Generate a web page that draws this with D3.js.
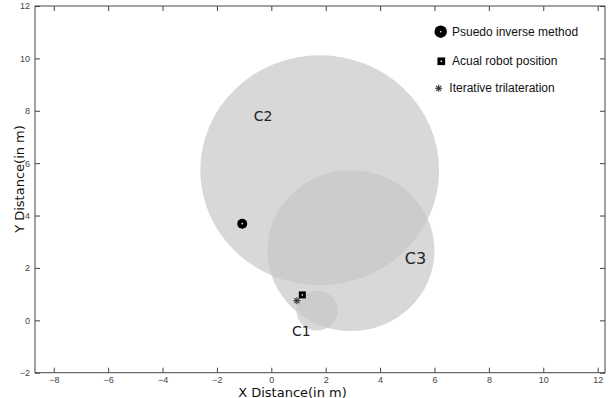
<!DOCTYPE html>
<html><head><meta charset="utf-8">
<script src="https://cdn.jsdelivr.net/npm/d3@7"></script>
<style>body{margin:0;background:#fff}svg{display:block}</style>
</head><body>
<script>
// ---- data ----
const xTicks = [-8, -6, -4, -2, 0, 2, 4, 6, 8, 10, 12];
const yTicks = [-2, 0, 2, 4, 6, 8, 10, 12];
const circleNames = ["C2", "C3", "C1"];
const circleX = [1.78, 2.93, 1.68];
const circleY = [5.73, 2.66, 0.37];
const circleR = [4.39, 3.07, 0.76];
const labelX = [-0.3, 5.3, 1.1];
const labelY = [7.8, 2.35, -0.42];
const markerNames = ["Psuedo inverse method", "Acual robot position", "Iterative trilateration"];
const markerX = [-1.07, 1.14, 0.94];
const markerY = [3.69, 0.97, 0.75];

const W = 614, H = 398;
const svg = d3.select("body").append("svg").attr("width", W).attr("height", H);
const x = d3.scaleLinear().domain([-8.69, 12.27]).range([35, 605]);
const y = d3.scaleLinear().domain([-2, 12]).range([372.7, 6]);

// circles
const cg = svg.append("g");
circleNames.forEach((n, i) => {
  cg.append("ellipse")
    .attr("cx", x(circleX[i])).attr("cy", y(circleY[i]))
    .attr("rx", x(circleX[i] + circleR[i]) - x(circleX[i]))
    .attr("ry", y(circleY[i]) - y(circleY[i] + circleR[i]))
    .attr("fill", "#c6c6c6").attr("fill-opacity", 0.69);
});
circleNames.forEach((n, i) => {
  svg.append("text").attr("x", x(labelX[i])).attr("y", y(labelY[i]))
    .attr("text-anchor", "middle").attr("dominant-baseline", "central")
    .attr("font-family", "DejaVu Sans").attr("font-size", n === "C3" ? 16 : 14)
    .attr("fill", "#222").text(n);
});

// markers
function drawMarker(g, k, px, py, s) {
  if (k === 0) {
    g.append("circle").attr("cx", px).attr("cy", py).attr("r", 5 * s).attr("fill", "#000");
    g.append("circle").attr("cx", px).attr("cy", py).attr("r", 0.8).attr("fill", "#fff");
  } else if (k === 1) {
    const a = 7 * s;
    g.append("rect").attr("x", px - a / 2).attr("y", py - a / 2).attr("width", a).attr("height", a).attr("fill", "#000");
    g.append("rect").attr("x", px - 0.7).attr("y", py - 0.7).attr("width", 1.4).attr("height", 1.4).attr("fill", "#fff");
  } else {
    const r = 3.5 * s;
    for (let j = 0; j < 4; j++) {
      const ang = j * Math.PI / 4;
      g.append("line")
        .attr("x1", px - r * Math.cos(ang)).attr("y1", py - r * Math.sin(ang))
        .attr("x2", px + r * Math.cos(ang)).attr("y2", py + r * Math.sin(ang))
        .attr("stroke", "#333").attr("stroke-width", 1.1);
    }
  }
}
const mg = svg.append("g");
markerNames.forEach((n, i) => drawMarker(mg, i, x(markerX[i]), y(markerY[i]), 1));

// legend
const lg = svg.append("g");
const legMX = [440.7, 441.3, 438.7];
const legMY = [31.7, 61.3, 88.3];
const legTX = [452, 452, 449.3];
markerNames.forEach((n, i) => {
  drawMarker(lg, i, legMX[i], legMY[i], i === 0 ? 1.25 : (i === 1 ? 1.1 : 1));
  lg.append("text").attr("x", legTX[i]).attr("y", legMY[i] + 4)
    .attr("font-family", "Liberation Sans, Arial").attr("font-size", 12)
    .attr("fill", "#111").text(n);
});

// axes frame
const axColor = "#444";
const xb = d3.axisBottom(x).tickValues(xTicks).tickSize(-5).tickPadding(4).tickFormat(d3.format("d"));
const xt = d3.axisTop(x).tickValues(xTicks).tickSize(-5).tickFormat("");
const yl = d3.axisLeft(y).tickValues(yTicks).tickSize(-5).tickPadding(5).tickFormat(d3.format("d"));
const yr = d3.axisRight(y).tickValues(yTicks).tickSize(-5).tickFormat("");
function style(g) {
  g.select(".domain").remove();
  g.selectAll("line").attr("stroke", axColor);
  g.selectAll("text").attr("font-family", "Liberation Sans, Arial").attr("font-size", 9).attr("fill", "#444");
}
svg.append("g").attr("transform", `translate(0,${y(-2)})`).call(xb).call(style);
svg.append("g").attr("transform", `translate(0,${y(12)})`).call(xt).call(style);
svg.append("g").attr("transform", `translate(${x(-8.69)},0)`).call(yl).call(style);
svg.append("g").attr("transform", `translate(${x(12.27)},0)`).call(yr).call(style);
svg.append("rect").attr("x", x(-8.69)).attr("y", y(12)).attr("width", x(12.27) - x(-8.69)).attr("height", y(-2) - y(12))
  .attr("fill", "none").attr("stroke", axColor).attr("stroke-width", 1);

// axis labels
svg.append("text").attr("x", 292.5).attr("y", 396.5).attr("text-anchor", "middle")
  .attr("font-family", "DejaVu Sans").attr("font-size", 13).attr("fill", "#111").text("X Distance(in m)");
svg.append("text").attr("transform", "translate(24,179) rotate(-90)").attr("text-anchor", "middle")
  .attr("font-family", "DejaVu Sans").attr("font-size", 13).attr("fill", "#111").text("Y Distance(in m)");
</script>
</body></html>
